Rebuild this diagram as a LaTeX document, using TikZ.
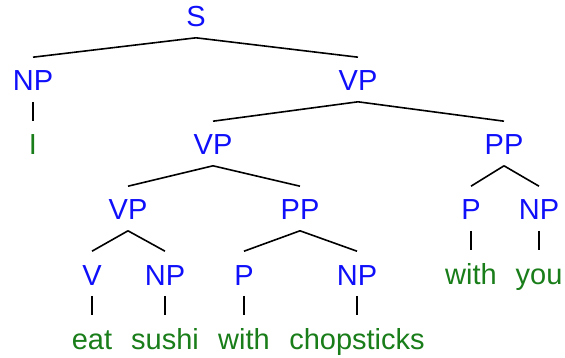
\documentclass[tikz,border=0pt]{standalone}
\usepackage{fontspec}
\setmainfont{Liberation Sans}
\definecolor{catblue}{RGB}{15,15,250}
\definecolor{wordgreen}{RGB}{25,125,25}

\begin{document}
\begin{tikzpicture}[x=1pt,y=-1pt,line width=1.6pt,
    cat node/.style={anchor=base,inner sep=0pt,text height=33pt,text depth=10pt,text=catblue,font=\fontsize{29}{30}\selectfont},
    word node/.style={cat node,text=wordgreen}]
        \useasboundingbox (0,0) rectangle (565,358);
        % phrase labels
        \node [cat node] (s) at (196,27) {S};
        \node [cat node] (np1) at (33,91) {NP};
        \node [cat node] (vp1) at (358,91) {VP};
        \node [cat node] (vp2) at (213,155) {VP};
        \node [cat node] (pp1) at (504,155) {PP};
        \node [cat node] (vp3) at (128,220) {VP};
        \node [cat node] (pp2) at (300,220) {PP};
        \node [cat node] (p2) at (471,220) {P};
        \node [cat node] (np3) at (539,220) {NP};
        \node [cat node] (v) at (92,285) {V};
        \node [cat node] (np2) at (165,285) {NP};
        \node [cat node] (p1) at (244,285) {P};
        \node [cat node] (np4) at (357,285) {NP};
        % words
        \node [word node] (i) at (33,155) {I};
        \node [word node] (eat) at (92,349) {eat};
        \node [word node] (sushi) at (165,349) {sushi};
        \node [word node] (with1) at (244,349) {with};
        \node [word node] (chop) at (357,349) {chopsticks};
        \node [word node] (with2) at (471,284) {with};
        \node [word node] (you) at (539,284) {you};
        % branches
        \path [draw] (s.south) edge (np1.north);
        \path [draw] (s.south) edge (vp1.north);
        \path [draw] (np1.south) edge (i.north);
        \path [draw] (vp1.south) edge (vp2.north);
        \path [draw] (vp1.south) edge (pp1.north);
        \path [draw] (vp2.south) edge (vp3.north);
        \path [draw] (vp2.south) edge (pp2.north);
        \path [draw] (pp1.south) edge (p2.north);
        \path [draw] (pp1.south) edge (np3.north);
        \path [draw] (vp3.south) edge (v.north);
        \path [draw] (vp3.south) edge (np2.north);
        \path [draw] (pp2.south) edge (p1.north);
        \path [draw] (pp2.south) edge (np4.north);
        \path [draw] (v.south) edge (eat.north);
        \path [draw] (np2.south) edge (sushi.north);
        \path [draw] (p1.south) edge (with1.north);
        \path [draw] (np4.south) edge (chop.north);
        \path [draw] (p2.south) edge (with2.north);
        \path [draw] (np3.south) edge (you.north);
    \end{tikzpicture}
\end{document}
